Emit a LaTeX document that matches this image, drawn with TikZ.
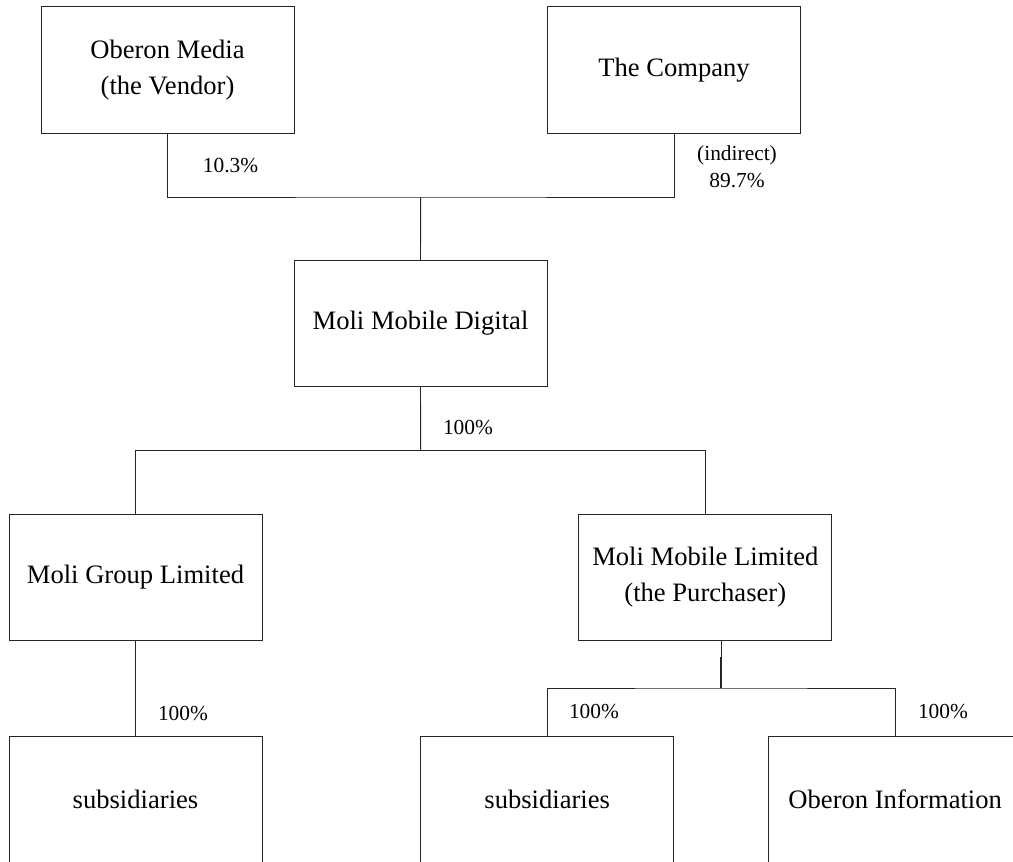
\documentclass[tikz,border=0pt]{standalone}
\usepackage{fontspec}
\setmainfont{Liberation Serif}
\begin{document}
\begin{tikzpicture}[x=1pt,y=-1pt,
  entity/.style={draw=black!85, line width=0.9pt, minimum width=253pt, minimum height=126.5pt,
     inner sep=0pt, align=center, font=\fontsize{26.6pt}{36pt}\selectfont},
  pct/.style={inner sep=0pt, align=center, font=\fontsize{21.4pt}{27pt}\selectfont},
  link/.style={draw=black!85, line width=0.9pt}]
\useasboundingbox (0,0) rectangle (1013,862);
\clip (0,0) rectangle (1013,862);
% boxes
\node[entity] (vendor)  at (167.5,70)    {Oberon Media\\(the Vendor)};
\node[entity] (company) at (674,70)      {The Company};
\node[entity] (digital) at (420.5,323.5) {Moli Mobile Digital};
\node[entity] (group)   at (135.5,577.5) {Moli Group Limited};
\node[entity] (purch)   at (705.3,577.5) {Moli Mobile Limited\\(the Purchaser)};
\node[entity] (sub1)    at (135.5,799.5) {subsidiaries};
\node[entity] (sub2)    at (547.2,799.5) {subsidiaries};
\node[entity] (oinfo)   at (895.2,799.5) {Oberon Information};
% junctions
\coordinate (jtop) at (420.7,197);
\coordinate (jmid) at (420.7,450.7);
\coordinate (pd)   at (721,641);
\coordinate (pk)   at (721,657);
\coordinate (jbot) at (721,688);
% connectors
\draw[link] (vendor.south) |- (jtop) -| (company.south);
\draw[link] (jtop) -- (digital.north);
\draw[link] (digital.south) -- (jmid);
\draw[link] (group.north) |- (jmid) -| (purch.north);
\draw[link] (group.south) -- (sub1.north);
\draw[link] (pd) -- (pk);
\draw[link, line width=1.8pt] (pk) -- (jbot);
\draw[link] (sub2.north) |- (jbot) -| (oinfo.north);
% labels
\node[pct] (l1) at (230.5,166) {10.3\%};
\node[pct] (l2) at (737,166.5) {(indirect)\\89.7\%};
\node[pct] (l3) at (468,428) {100\%};
\node[pct] (l4) at (183,714) {100\%};
\node[pct] (l5) at (594,712) {100\%};
\node[pct] (l6) at (943,712) {100\%};
\end{tikzpicture}
\end{document}
